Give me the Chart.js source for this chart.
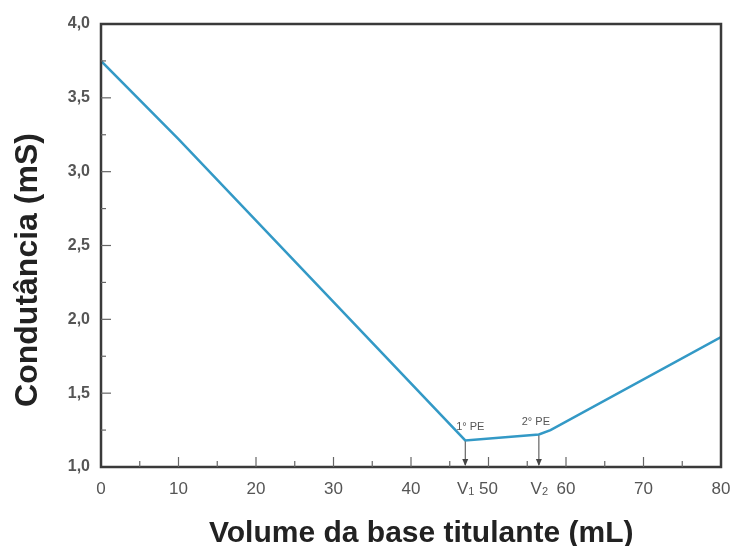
<!DOCTYPE html>
<html><head><meta charset="utf-8">
<script src="https://cdn.jsdelivr.net/npm/chart.js@4"></script>
<style>html,body{margin:0;padding:0;background:#fff}#wrap{width:731px;height:546px;position:relative}</style>
</head><body><div id="wrap"><canvas id="c" width="731" height="546"></canvas></div>
<script>
// ---- data ----
const volume = [0, 10, 47, 56.5, 58, 80];                  // mL
const conductance = [3.75, 3.22, 1.18, 1.22, 1.25, 1.88];  // mS
const xTickValues = [0, 10, 20, 30, 40, 50, 60, 70, 80];
const yTickValues = [1.0, 1.5, 2.0, 2.5, 3.0, 3.5, 4.0];
const epVolumes = [47, 56.5];
const epConductance = [1.18, 1.22];
const epLabels = ['1° PE', '2° PE'];
const epSubscripts = ['1', '2'];
const xTitle = 'Volume da base titulante (mL)';
const yTitle = 'Condutância (mS)';

const AXIS_COLOR = '#3a3a3a';
const LABEL_COLOR = '#555555';
const FONT = '"Liberation Sans", Arial, sans-serif';

const decorations = {
  id: 'decorations',
  afterDraw(chart) {
    const {ctx, chartArea: a, scales: {x, y}} = chart;
    ctx.save();
    // frame
    ctx.strokeStyle = AXIS_COLOR;
    ctx.lineWidth = 2.5;
    ctx.strokeRect(a.left, a.top, a.right - a.left, a.bottom - a.top);
    // inward ticks
    ctx.lineWidth = 1.2;
    ctx.strokeStyle = '#666';
    for (let v = x.min + 5; v < x.max; v += 5) {
      const px = x.getPixelForValue(v);
      const len = (v % 10 === 0) ? 10 : 6;
      ctx.beginPath(); ctx.moveTo(px, a.bottom); ctx.lineTo(px, a.bottom - len); ctx.stroke();
    }
    for (let v = y.min + 0.25; v < y.max - 0.01; v += 0.25) {
      const py = y.getPixelForValue(v);
      const major = Math.abs(v * 2 - Math.round(v * 2)) < 1e-6;
      const len = major ? 10 : 5;
      ctx.beginPath(); ctx.moveTo(a.left, py); ctx.lineTo(a.left + len, py); ctx.stroke();
    }
    // equivalence point arrows and labels
    for (let i = 0; i < epVolumes.length; i++) {
      const px = x.getPixelForValue(epVolumes[i]);
      const py = y.getPixelForValue(epConductance[i]);
      ctx.strokeStyle = '#444';
      ctx.fillStyle = '#444';
      ctx.lineWidth = 1;
      ctx.beginPath(); ctx.moveTo(px, py + 1); ctx.lineTo(px, a.bottom - 2); ctx.stroke();
      ctx.beginPath();
      ctx.moveTo(px, a.bottom - 1); ctx.lineTo(px - 3, a.bottom - 8); ctx.lineTo(px + 3, a.bottom - 8);
      ctx.closePath(); ctx.fill();
      ctx.fillStyle = '#555';
      ctx.font = '11px ' + FONT;
      ctx.textAlign = 'center';
      ctx.textBaseline = 'alphabetic';
      const off = i === 0 ? 5 : -3;
      ctx.fillText(epLabels[i], px + off, py - 10);
      ctx.font = '17px ' + FONT;
      ctx.textBaseline = 'middle';
      ctx.textAlign = 'right';
      ctx.fillText('V', px + 3, a.bottom + 22);
      ctx.font = '11px ' + FONT;
      ctx.textAlign = 'left';
      ctx.fillText(epSubscripts[i], px + 3, a.bottom + 25);
    }
    // axis titles
    ctx.fillStyle = '#222';
    ctx.textBaseline = 'alphabetic';
    ctx.font = 'bold 30px ' + FONT;
    ctx.textAlign = 'left';
    ctx.fillText(xTitle, 209, 542);
    ctx.translate(37, 270);
    ctx.rotate(-Math.PI / 2);
    ctx.font = 'bold 32px ' + FONT;
    ctx.textAlign = 'center';
    ctx.fillText(yTitle, 0, 0);
    ctx.restore();
  }
};

new Chart(document.getElementById('c'), {
  type: 'line',
  data: {
    datasets: [{
      data: volume.map((v, i) => ({x: v, y: conductance[i]})),
      borderColor: '#3399c6',
      borderWidth: 2.5,
      pointRadius: 0,
      tension: 0,
      fill: false
    }]
  },
  options: {
    responsive: false,
    animation: false,
    devicePixelRatio: 1,
    layout: {padding: {top: 24, right: 10, left: 0, bottom: 0}},
    plugins: {legend: {display: false}, tooltip: {enabled: false}},
    scales: {
      x: {
        type: 'linear', min: 0, max: 80,
        afterBuildTicks: s => { s.ticks = xTickValues.map(v => ({value: v})); },
        grid: {display: false, drawTicks: false},
        border: {display: false},
        ticks: {
          padding: 12, color: LABEL_COLOR,
          font: {family: FONT, size: 17},
          maxRotation: 0, autoSkip: false,
          callback: v => String(v)
        },
        afterFit: s => { s.height = 79; s.paddingRight = 0; s.paddingLeft = 0; }
      },
      y: {
        type: 'linear', min: 1, max: 4,
        afterBuildTicks: s => { s.ticks = yTickValues.map(v => ({value: v})); },
        grid: {display: false, drawTicks: false},
        border: {display: false},
        ticks: {
          padding: 11, color: LABEL_COLOR,
          font: {family: FONT, size: 16, weight: 'bold'},
          callback: v => Number(v).toFixed(1).replace('.', ',')
        },
        afterFit: s => { s.width = 101; s.paddingTop = 0; s.paddingBottom = 0; }
      }
    }
  },
  plugins: [decorations]
});
</script>
</body></html>
